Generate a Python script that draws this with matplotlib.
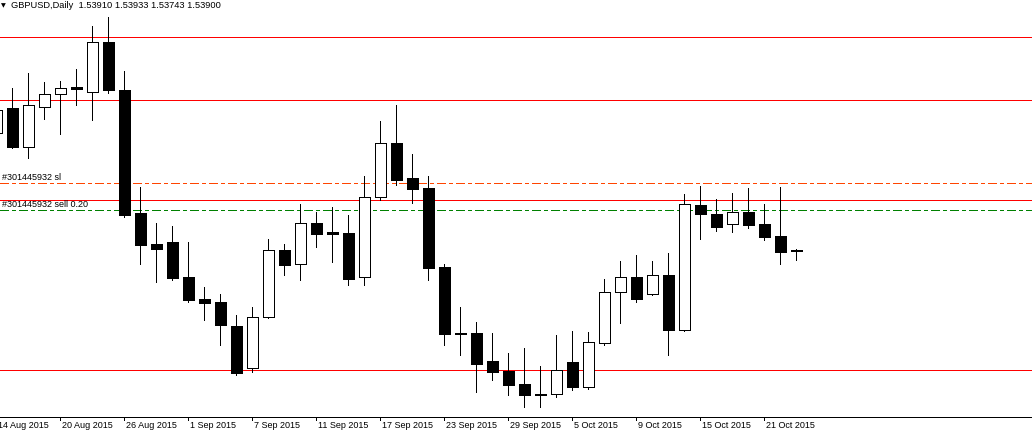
import numpy as np
import matplotlib.pyplot as plt

# GBPUSD daily bars, 14 Aug 2015 .. 23 Oct 2015
opens = [1.5602, 1.5647, 1.5578, 1.5650, 1.5672, 1.5685, 1.5677, 1.5766, 1.5680, 1.5458,
         1.5403, 1.5406, 1.5343, 1.5304, 1.5298, 1.5255, 1.5179, 1.5272, 1.5391, 1.5366,
         1.5440, 1.5425, 1.5422, 1.5343, 1.5487, 1.5584, 1.5521, 1.5503, 1.5361, 1.5242,
         1.5242, 1.5192, 1.5174, 1.5151, 1.5133, 1.5132, 1.5190, 1.5146, 1.5224, 1.5316,
         1.5344, 1.5312, 1.5347, 1.5247, 1.5473, 1.5457, 1.5438, 1.5460, 1.5439, 1.5417,
         1.53910]
highs = [1.5667, 1.5683, 1.5710, 1.5694, 1.5696, 1.5718, 1.5795, 1.5812, 1.5714, 1.5505,
         1.5441, 1.5435, 1.5407, 1.5325, 1.5313, 1.5275, 1.5289, 1.5412, 1.5403, 1.5475,
         1.5460, 1.5469, 1.5455, 1.5525, 1.5624, 1.5653, 1.5565, 1.5525, 1.5367, 1.5289,
         1.5262, 1.5242, 1.5206, 1.5215, 1.5183, 1.5239, 1.5246, 1.5244, 1.5340, 1.5372,
         1.5383, 1.5372, 1.5386, 1.5493, 1.5507, 1.5484, 1.5494, 1.5503, 1.5475, 1.5505,
         1.53933]
lows = [1.5590, 1.5575, 1.5558, 1.5628, 1.5601, 1.5652, 1.5625, 1.5675, 1.5451, 1.5367,
        1.5335, 1.5338, 1.5299, 1.5265, 1.5220, 1.5166, 1.5173, 1.5270, 1.5347, 1.5337,
        1.5398, 1.5371, 1.5328, 1.5329, 1.5482, 1.5509, 1.5477, 1.5338, 1.5221, 1.5202,
        1.5137, 1.5158, 1.5131, 1.5110, 1.5110, 1.5128, 1.5139, 1.5142, 1.5220, 1.5261,
        1.5299, 1.5310, 1.5202, 1.5246, 1.5412, 1.5426, 1.5425, 1.5432, 1.5410, 1.5367,
        1.53743]
closes = [1.5644, 1.5578, 1.5652, 1.5672, 1.5683, 1.5682, 1.5767, 1.5679, 1.5455, 1.5400,
          1.5394, 1.5342, 1.5302, 1.5297, 1.5256, 1.5171, 1.5271, 1.5391, 1.5364, 1.5440,
          1.5421, 1.5421, 1.5340, 1.5487, 1.5584, 1.5518, 1.5502, 1.5360, 1.5241, 1.5241,
          1.5187, 1.5173, 1.5149, 1.5130, 1.5130, 1.5175, 1.5146, 1.5226, 1.5316, 1.5344,
          1.5304, 1.5346, 1.5247, 1.5474, 1.5457, 1.5434, 1.5460, 1.5437, 1.5416, 1.5389,
          1.53900]

hlines = [1.5776, 1.5661, 1.5481, 1.5175]
sl_price = 1.5512
entry_price = 1.5463
sl_text = '#301445932 sl'
entry_text = '#301445932 sell 0.20'

date_labels = ['14 Aug 2015', '20 Aug 2015', '26 Aug 2015', '1 Sep 2015', '7 Sep 2015',
               '11 Sep 2015', '17 Sep 2015', '23 Sep 2015', '29 Sep 2015', '5 Oct 2015',
               '9 Oct 2015', '15 Oct 2015', '21 Oct 2015']
header = 'GBPUSD,Daily  1.53910 1.53933 1.53743 1.53900'

W, H = 1032, 434
fig = plt.figure(figsize=(W / 100, H / 100), dpi=100)
ax = fig.add_axes([0, 17 / H, 1, 417 / H])

o = np.array(opens)
c = np.array(closes)
x = np.arange(len(o))
lw = 0.72  # one pixel

# order / level lines, crisp like the terminal draws them
for p in hlines:
    ax.axhline(p, color='#ff0000', lw=lw, antialiased=False, zorder=1)
ax.axhline(sl_price, color='#ff4500', lw=lw, dashes=(9, 3, 3, 3), antialiased=False, zorder=1)
ax.axhline(entry_price, color='#008000', lw=lw, dashes=(9, 3, 3, 3), antialiased=False, zorder=1)

# candles
ax.vlines(x, lows, highs, color='black', lw=lw, antialiased=False, zorder=2)
up = c > o
ax.bar(x, np.abs(c - o), bottom=np.minimum(o, c), width=0.66,
       color=np.where(up, 'white', 'black'), edgecolor='black', linewidth=lw,
       antialiased=False, zorder=3)

ax.set_xlim(0.22, 64.72)
ax.set_ylim(1.50912, 1.58418)

for s in ['top', 'left', 'right']:
    ax.spines[s].set_visible(False)
ax.spines['bottom'].set_linewidth(lw)
ax.spines['bottom'].set_antialiased(False)
ax.set_xticks([])
ax.set_yticks([])

font = dict(family=['Liberation Sans', 'DejaVu Sans'], fontsize=6.5, color='black')

# date axis: tick every 4 bars, label starts right of the tick
xt = ax.get_xaxis_transform()
tick_pos = np.arange(0, len(o), 4)
ax.vlines(tick_pos, -0.008, 0, transform=xt, color='black', lw=lw,
          antialiased=False, clip_on=False)
for p, lab in zip(tick_pos, date_labels):
    ax.text(p + 0.07, -0.021, lab, transform=xt, ha='left', va='center',
            clip_on=False, **font)

# order labels
for p, lab in [(sl_price, sl_text), (entry_price, entry_text)]:
    ax.annotate(lab, xy=(0, p), xycoords=('axes fraction', 'data'),
                xytext=(2, 6), textcoords='offset pixels', ha='left', va='center', **font)

fig.text(1 / W, 1 - 5.5 / H, '▼', fontsize=4.5, va='center', ha='left', family='DejaVu Sans')
fig.text(11 / W, 1 - 5 / H, header, va='center', ha='left',
         **dict(font, fontsize=6.7))

fig.savefig('out.png', dpi=100)
